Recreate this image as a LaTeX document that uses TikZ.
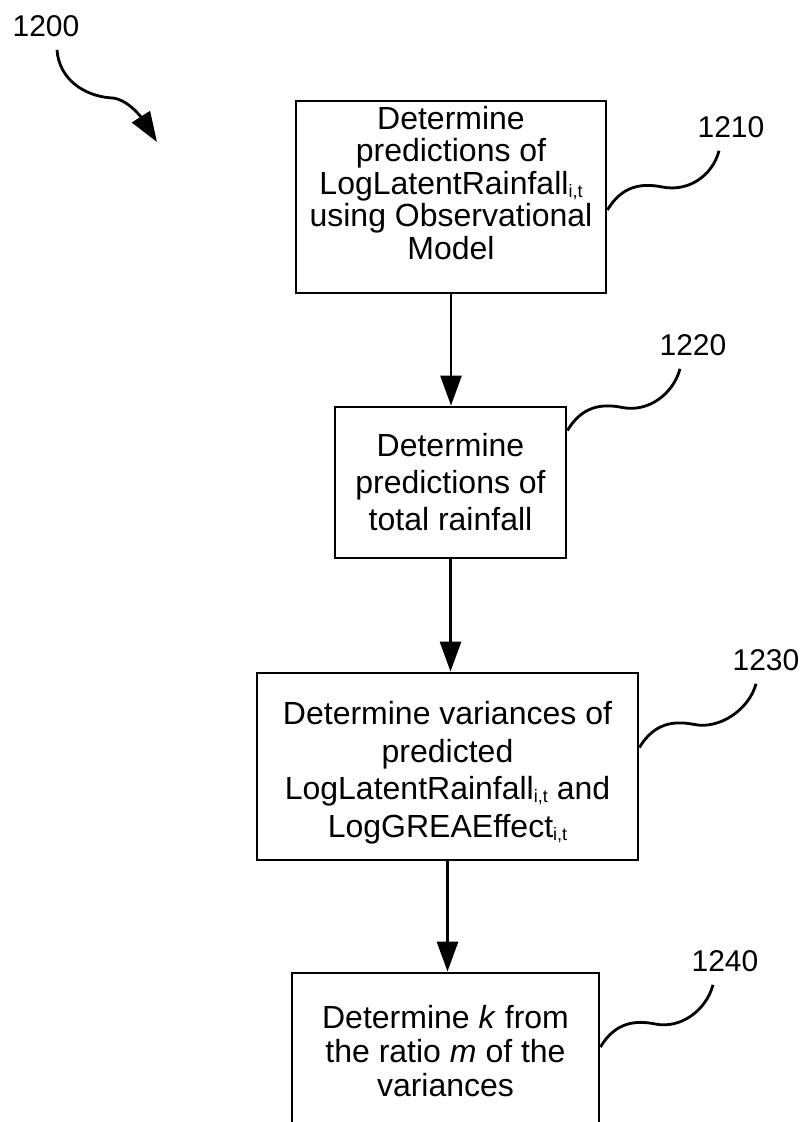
\documentclass[tikz,border=0pt]{standalone}
\usepackage{fontspec}
\setmainfont{Liberation Sans}
\usetikzlibrary{arrows.meta,positioning}

\newcommand\lowit{\raisebox{-3pt}{\fontsize{18}{18}\selectfont i,t}}

\tikzset{
  stepbox/.style={draw, line width=2.8pt, align=center, inner sep=0pt,
    font=\fontsize{32}{37}\selectfont},
  boxtext/.style={align=center, inner sep=0pt, font=\fontsize{32}{32.5}\selectfont},
  refnum/.style={inner xsep=0pt, inner ysep=13pt, font=\fontsize{30}{30}\selectfont},
  flow/.style={line width=2.8pt, -{Triangle[length=30pt,width=21pt]}},
  leader/.style={line width=2.8pt},
}

\begin{document}
\begin{tikzpicture}[x=1pt,y=-1pt]
	\clip (0,0) rectangle (804,1122);
	
	% steps
	\node[stepbox, minimum width=310pt, minimum height=192pt,
		label={[boxtext, yshift=14pt]center:Determine\\predictions of\\LogLatentRainfall\lowit\\using Observational\\Model}]
		(b1210) at (451,197) {};
	\node[stepbox, minimum width=231pt, minimum height=151pt] (b1220) at (450.5,482.5)
		{Determine\\predictions of\\total rainfall};
	\node[stepbox, minimum width=381pt, minimum height=187pt,
		label={[boxtext, font=\fontsize{32}{37.5}\selectfont, yshift=-6pt]center:Determine variances of\\predicted\\LogLatentRainfall\lowit\ and\\LogGREAEffect\lowit}]
		(b1230) at (447.5,766.5) {};
	\node[stepbox, minimum width=307pt, minimum height=156pt, font=\fontsize{32}{34}\selectfont] (b1240) at (445.5,1051)
		{Determine \textit{k} from\\the ratio \textit{m} of the\\variances};
	
	% reference numerals
	\node[refnum] (l1200) at (46,26) {1200};
	\node[refnum] (l1210) at (731,127) {1210};
	\node[refnum] (l1220) at (693,345) {1220};
	\node[refnum] (l1230) at (766,660) {1230};
	\node[refnum] (l1240) at (725,961) {1240};
	\coordinate (h1200) at (157,142);
	
	% flow
	\draw[flow] (b1210.south) -- (b1210.south |- b1220.north);
	\draw[flow] (b1220.south) -- (b1220.south |- b1230.north);
	\draw[flow] (b1230.south) -- (b1230.south |- b1240.north);
	
	% leaders
	\draw[flow] ([xshift=11pt]l1200.south) .. controls +(2,30) and +(-25,-2) .. +(53,48)
		.. controls +(18,0) and +(-14,-22) .. (h1200);
	\draw[leader] ([yshift=-13pt]b1210.east) .. controls +(15,-25) and +(-20,-4) .. +(55,-23)
		.. controls +(25,5) and +(-7,26) .. ([xshift=-12pt]l1210.south);
	\draw[leader] ([yshift=52pt]b1220.east) .. controls +(15,-25) and +(-20,-4) .. +(55,-23)
		.. controls +(25,5) and +(-7,26) .. ([xshift=-13pt]l1220.south);
	\draw[leader] ([yshift=19pt]b1230.east) .. controls +(15,-25) and +(-20,-4) .. +(55,-23)
		.. controls +(25,5) and +(-7,26) .. ([xshift=-10pt]l1230.south);
	\draw[leader] ([yshift=4pt]b1240.east) .. controls +(15,-25) and +(-20,-4) .. +(55,-23)
		.. controls +(25,5) and +(-7,26) .. ([xshift=-12pt]l1240.south);
\end{tikzpicture}
\end{document}
